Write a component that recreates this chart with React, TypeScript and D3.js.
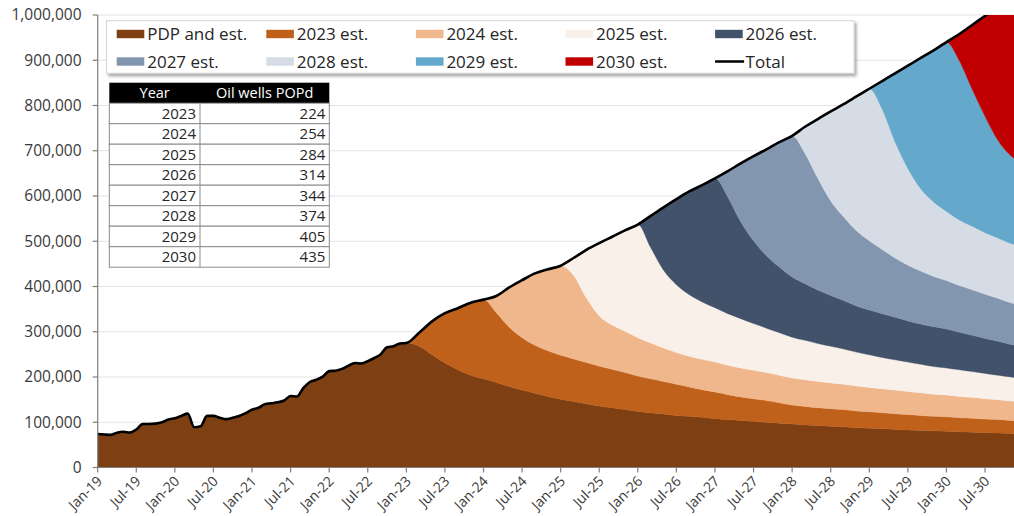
import React from "react";
import * as d3 from "d3";

// ---------- DATA (thousand barrels per day) ----------
const UNIT = 1000;

const seriesNames = [
  "PDP and est.", "2023 est.", "2024 est.", "2025 est.", "2026 est.",
  "2027 est.", "2028 est.", "2029 est.", "2030 est.",
];
const seriesColors = [
  "#7e4012", "#c0611b", "#f0b78c", "#f9f0ea", "#41526a",
  "#8396b0", "#d5dce5", "#64a8cb", "#c00000",
];

// Monthly PDP history, Jan-19 .. Dec-22
const pdpHistory = [
  74, 73, 72, 77, 79, 77, 84, 96, 96, 97, 100, 106,
  109, 114, 119, 89, 91, 114, 114, 110, 107, 110, 114, 120,
  128, 132, 140, 142, 144, 148, 158, 157, 176, 189, 194, 201,
  213, 214, 218, 225, 231, 230, 235, 242, 250, 266, 268, 274,
];

// Forecast sample dates
const forecastDates = [
  "2023-01", "2023-03", "2023-05", "2023-07", "2023-09", "2023-11",
  "2024-01", "2024-03", "2024-05", "2024-07", "2024-09", "2024-11",
  "2025-01", "2025-03", "2025-05", "2025-07", "2025-09", "2025-11",
  "2026-01", "2026-03", "2026-05", "2026-07", "2026-09", "2026-11",
  "2027-01", "2027-03", "2027-05", "2027-07", "2027-09", "2027-11",
  "2028-01", "2028-03", "2028-05", "2028-07", "2028-09", "2028-11",
  "2029-01", "2029-03", "2029-05", "2029-07", "2029-09", "2029-11",
  "2030-01", "2030-03", "2030-05", "2030-07", "2030-09", "2030-11",
  "2030-12",
];

const pdpForecast = [
  275, 268, 249, 231, 216, 204, 196, 188, 179, 171, 164, 157, 151, 146, 141, 136, 132,
  128, 124, 121, 118, 115, 113, 111, 108, 106, 104, 102, 100, 98, 96, 94, 93, 91, 90,
  88, 87, 86, 84, 83, 82, 81, 80, 79, 78, 77, 76, 75, 74,
];
const est2023 = [
  0, 30, 74, 110, 136, 160, 175, 154, 131, 116, 106, 101, 97, 94, 91, 88, 85, 82, 78,
  75, 72, 69, 65, 61, 59, 55, 52, 50, 48, 45, 42, 41, 39, 39, 38, 37, 36, 35, 35, 34,
  33, 32, 32, 31, 31, 30, 30, 29, 29,
];
const est2024 = [
  0, 0, 0, 0, 0, 0, 0,
  37, 88, 127, 159, 180, 198, 185, 143, 111, 98, 91, 85, 79, 74, 70, 68, 67, 66, 65,
  64, 63, 62, 61, 60, 59, 58, 57, 56, 55, 54, 53, 52, 51, 50, 49, 48, 47, 46, 45, 44,
  43, 43,
];
const est2025 = [
  0, 0, 0, 0, 0, 0, 0, 0, 0, 0, 0, 0, 0,
  38, 106, 161, 195, 223, 250, 211, 172, 150, 136, 127, 120, 114, 109, 103, 98, 94,
  90, 87, 84, 81, 78, 75, 72, 69, 67, 65, 63, 61, 60, 59, 57, 56, 54, 53, 52,
];
const est2026 = [
  0, 0, 0, 0, 0, 0, 0, 0, 0, 0, 0, 0, 0, 0, 0, 0, 0, 0, 0,
  70, 139, 189, 228, 258, 286, 258, 214, 183, 160, 145, 133, 125, 118, 112, 107, 102,
  99, 97, 94, 91, 89, 88, 86, 83, 80, 77, 75, 72, 71,
];
const est2027 = [
  0, 0, 0, 0, 0, 0, 0, 0, 0, 0, 0, 0, 0, 0, 0, 0, 0, 0, 0, 0, 0, 0, 0, 0, 0,
  57, 129, 187, 235, 276, 312, 288, 247, 209, 185, 166, 153, 142, 131, 123, 117, 111,
  107, 103, 101, 98, 95, 92, 92,
];
const est2028 = [
  0, 0, 0, 0, 0, 0, 0, 0, 0, 0, 0, 0, 0, 0, 0, 0, 0, 0, 0, 0, 0, 0, 0, 0, 0, 0, 0,
  0, 0, 0, 0,
  59, 131, 198, 249, 297, 336, 310, 257, 214, 182, 165, 153, 145, 140, 136, 133, 131,
  130,
];
const est2029 = [
  0, 0, 0, 0, 0, 0, 0, 0, 0, 0, 0, 0, 0, 0, 0, 0, 0, 0, 0, 0, 0, 0, 0, 0, 0, 0, 0,
  0, 0, 0, 0, 0, 0, 0, 0, 0, 0,
  62, 151, 227, 289, 335, 374, 352, 303, 257, 216, 194, 188,
];
const est2030 = [
  0, 0, 0, 0, 0, 0, 0, 0, 0, 0, 0, 0, 0, 0, 0, 0, 0, 0, 0, 0, 0, 0, 0, 0, 0, 0, 0,
  0, 0, 0, 0, 0, 0, 0, 0, 0, 0, 0, 0, 0, 0, 0, 0,
  59, 142, 222, 295, 348, 367,
];

const xTickLabels = [
  "Jan-19", "Jul-19", "Jan-20", "Jul-20", "Jan-21", "Jul-21", "Jan-22", "Jul-22",
  "Jan-23", "Jul-23", "Jan-24", "Jul-24", "Jan-25", "Jul-25", "Jan-26", "Jul-26",
  "Jan-27", "Jul-27", "Jan-28", "Jul-28", "Jan-29", "Jul-29", "Jan-30", "Jul-30",
];
const yTicks = [0, 100000, 200000, 300000, 400000, 500000, 600000, 700000, 800000, 900000, 1000000];

const tableYears = [2023, 2024, 2025, 2026, 2027, 2028, 2029, 2030];
const tableWells = [224, 254, 284, 314, 344, 374, 405, 435];

// ---------- BUILD ROWS ----------
type Row = { m: number; v: number[] };
const monthIndex = (s: string) => {
  const [yy, mm] = s.split("-").map(Number);
  return (yy - 2019) * 12 + (mm - 1);
};
const forecastSeries = [pdpForecast, est2023, est2024, est2025, est2026, est2027, est2028, est2029, est2030];
const rows: Row[] = [
  ...pdpHistory.map((v, i) => ({ m: i, v: [v, 0, 0, 0, 0, 0, 0, 0, 0] })),
  ...forecastDates.map((d, j) => ({ m: monthIndex(d), v: forecastSeries.map((s) => s[j]) })),
];

// ---------- LAYOUT ----------
const W = 1014;
const H = 516;
const PL = 97.7;
const PT = 15;
const PB = 467.5;
const MONTH_PX = 6.43;
const FONT = "'Open Sans', 'Liberation Sans', sans-serif";

export default function App() {
  const x = d3.scaleLinear().domain([0, 144]).range([PL, PL + MONTH_PX * 144]);
  const y = d3.scaleLinear().domain([0, 1000000]).range([PB, PT]);

  const keys = d3.range(seriesNames.length);
  const stacked = d3
    .stack<Row, number>()
    .keys(keys)
    .value((d, k) => d.v[k] * UNIT)(rows);

  const area = d3
    .area<d3.SeriesPoint<Row>>()
    .x((d) => x(d.data.m))
    .y0((d) => y(d[0]))
    .y1((d) => y(d[1]))
    .curve(d3.curveMonotoneX);

  const totalLine = d3
    .line<Row>()
    .x((d) => x(d.m))
    .y((d) => y(d3.sum(d.v) * UNIT))
    .curve(d3.curveMonotoneX);

  const fmt = d3.format(",");

  // legend geometry
  const legX = 106.5, legY = 20.7, legW = 747.5, legH = 52.5;
  const colX0 = 116.7, colStep = 149.6;
  const rowYs = [34, 61.5];
  const legendItems = [
    ...seriesNames.map((n, i) => ({ name: n, color: seriesColors[i], line: false })),
    { name: "Total", color: "#000", line: true },
  ];

  // table geometry
  const tX0 = 109.3, tX1 = 200, tX2 = 329.3, tY0 = 82.7, tRow = 20.5;

  return (
    <div style={{ position: "absolute", left: 0, top: 0 }}>
      <svg width={W} height={H} style={{ display: "block", fontFamily: FONT }}>
        <defs>
          <clipPath id="plotClip">
            <rect x={PL} y={PT} width={W - PL} height={PB - PT} />
          </clipPath>
          <filter id="shadow" x="-5%" y="-20%" width="110%" height="150%">
            <feDropShadow dx="2" dy="2.5" stdDeviation="1.8" floodColor="#000" floodOpacity="0.35" />
          </filter>
        </defs>
        <rect x={0} y={0} width={W} height={H} fill="#fff" />

        {/* gridlines */}
        {yTicks.map((t) => (
          <line key={"g" + t} x1={PL} x2={W} y1={y(t)} y2={y(t)} stroke="#e3e3e3" strokeWidth={1} />
        ))}

        {/* areas */}
        <g clipPath="url(#plotClip)">
          {stacked.map((s, i) => (
            <path key={i} d={area(s) || ""} fill={seriesColors[i]} stroke={seriesColors[i]} strokeWidth={0.4} />
          ))}
          <path d={totalLine(rows) || ""} fill="none" stroke="#000" strokeWidth={2.6} strokeLinejoin="round" />
        </g>

        {/* y axis */}
        <line x1={PL} x2={PL} y1={PT} y2={PB} stroke="#7f7f7f" strokeWidth={1.2} />
        {yTicks.map((t) => (
          <g key={"y" + t}>
            <line x1={PL - 5} x2={PL} y1={y(t)} y2={y(t)} stroke="#7f7f7f" strokeWidth={1.2} />
            <text x={81.5} y={y(t)} dy="0.35em" textAnchor="end" fontSize={15.5} fill="#3a3a3a">
              {fmt(t)}
            </text>
          </g>
        ))}

        {/* x axis */}
        <line x1={PL} x2={W} y1={PB} y2={PB} stroke="#7f7f7f" strokeWidth={1.2} />
        {xTickLabels.map((lab, i) => {
          const tx = x(i * 6);
          return (
            <g key={"x" + lab}>
              <line x1={tx} x2={tx} y1={PB} y2={PB + 5} stroke="#7f7f7f" strokeWidth={1.2} />
              <text
                transform={`translate(${tx + 2},${PB + 11}) rotate(-45)`}
                textAnchor="end"
                dy="0.35em"
                fontSize={14}
                fill="#3a3a3a"
              >
                {lab}
              </text>
            </g>
          );
        })}

        {/* legend */}
        <rect x={legX} y={legY} width={legW} height={legH} fill="#fff" stroke="#d4d4d4" strokeWidth={1} filter="url(#shadow)" />
        {legendItems.map((it, i) => {
          const col = i % 5;
          const row = Math.floor(i / 5);
          const sx = colX0 + col * colStep;
          const cy = rowYs[row];
          return (
            <g key={"l" + i}>
              {it.line ? (
                <line x1={sx} x2={sx + 29} y1={cy} y2={cy} stroke="#000" strokeWidth={2.5} />
              ) : (
                <rect x={sx} y={cy - 4.2} width={27.6} height={8.4} fill={it.color} />
              )}
              <text x={sx + 30.5} y={cy} dy="0.36em" fontSize={17} fill="#262626">
                {it.name}
              </text>
            </g>
          );
        })}

        {/* table */}
        <rect x={tX0} y={tY0} width={tX2 - tX0} height={tRow} fill="#000" />
        <text x={(tX0 + tX1) / 2} y={tY0 + tRow / 2} dy="0.36em" textAnchor="middle" fontSize={14.5} fill="#fff">
          Year
        </text>
        <text x={(tX1 + tX2) / 2} y={tY0 + tRow / 2} dy="0.36em" textAnchor="middle" fontSize={14.5} fill="#fff">
          Oil wells POPd
        </text>
        {tableYears.map((yr, i) => {
          const ry = tY0 + tRow * (i + 1);
          return (
            <g key={"t" + yr}>
              <rect x={tX0} y={ry} width={tX2 - tX0} height={tRow} fill="#fff" stroke="#8a8a8a" strokeWidth={1} />
              <line x1={tX1} x2={tX1} y1={ry} y2={ry + tRow} stroke="#8a8a8a" strokeWidth={1} />
              <text x={tX1 - 4} y={ry + tRow / 2} dy="0.36em" textAnchor="end" fontSize={15} fill="#262626">
                {yr}
              </text>
              <text x={tX2 - 4} y={ry + tRow / 2} dy="0.36em" textAnchor="end" fontSize={15} fill="#262626">
                {tableWells[i]}
              </text>
            </g>
          );
        })}
      </svg>
    </div>
  );
}
